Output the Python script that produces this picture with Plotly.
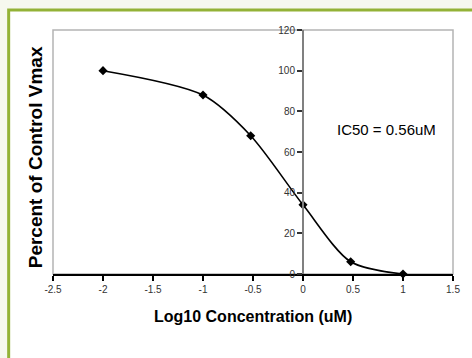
import plotly.graph_objects as go

# Dose-response data: log10 of concentration (uM) vs percent of control Vmax
log_conc = [-2.0, -1.0, -0.523, 0.0, 0.477, 1.0]
pct_vmax = [100, 88, 68, 34, 6, 0]

x_tick_vals = [-2.5, -2.0, -1.5, -1.0, -0.5, 0.0, 0.5, 1.0, 1.5]
x_tick_text = ["-2.5", "-2", "-1.5", "-1", "-0.5", "0", "0.5", "1", "1.5"]
y_tick_vals = [0, 20, 40, 60, 80, 100, 120]

x_title = "Log10 Concentration (uM)"
y_title = "Percent of Control Vmax"
ic50_label = "IC50 = 0.56uM"

FONT = "Arial, Liberation Sans, sans-serif"
W, H = 472, 358
L, R, T, B = 53, 13, 30, 84
PW, PH = W - L - R, H - T - B


def px_x(px):
    return (px - L) / PW


def px_y(py):
    return (H - B - py) / PH


fig = go.Figure()
fig.add_trace(go.Scatter(
    x=log_conc, y=pct_vmax,
    mode="lines+markers",
    line=dict(color="black", width=1.6, shape="spline", smoothing=0.8),
    marker=dict(symbol="diamond", size=7, color="black"),
    showlegend=False, cliponaxis=False,
))

fig.update_layout(
    width=W, height=H,
    margin=dict(l=L, r=R, t=T, b=B),
    paper_bgcolor="#f6f8ee",
    plot_bgcolor="white",
    font=dict(family=FONT, color="#222"),
    xaxis=dict(
        range=[-2.5, 1.5], tickvals=x_tick_vals, ticktext=x_tick_text,
        showgrid=False, zeroline=False,
        showline=True, linecolor="black", linewidth=2,
        ticks="outside", ticklen=5, tickwidth=1.5, tickcolor="black",
        tickfont=dict(size=10, color="#333"),
    ),
    yaxis=dict(
        range=[0, 120], tickvals=y_tick_vals,
        showgrid=False, zeroline=False,
        anchor="free", position=2.5 / 4.0,
        showline=True, linecolor="#808080", linewidth=2,
        ticks="outside", ticklen=5, tickwidth=1.5, tickcolor="#333",
        tickfont=dict(size=10, color="#333"),
    ),
)

# Green outer frame with white fill, running past the right and bottom edges
fig.add_shape(type="rect", xref="paper", yref="paper",
              x0=px_x(8), x1=px_x(490), y0=px_y(380), y1=px_y(10),
              line=dict(color="#93b236", width=3), fillcolor="white",
              layer="below")
# Light grey plot-area border
fig.add_shape(type="rect", xref="paper", yref="paper",
              x0=0, x1=1, y0=0, y1=1,
              line=dict(color="#b4b4b4", width=1.5), layer="below")

fig.add_annotation(text=f"<b>{x_title}</b>", xref="paper", yref="paper",
                   x=px_x(256), y=px_y(316), showarrow=False,
                   xanchor="center", yanchor="middle",
                   font=dict(size=16, color="black", family=FONT))
fig.add_annotation(text=f"<b>{y_title}</b>", xref="paper", yref="paper",
                   x=px_x(35), y=px_y(157), showarrow=False, textangle=-90,
                   xanchor="center", yanchor="middle",
                   font=dict(size=19, color="black", family=FONT))
fig.add_annotation(text=ic50_label, xref="paper", yref="paper",
                   x=px_x(392), y=px_y(129), showarrow=False,
                   xanchor="center", yanchor="middle",
                   font=dict(size=15, color="black", family=FONT))

fig.write_html("out.html")
